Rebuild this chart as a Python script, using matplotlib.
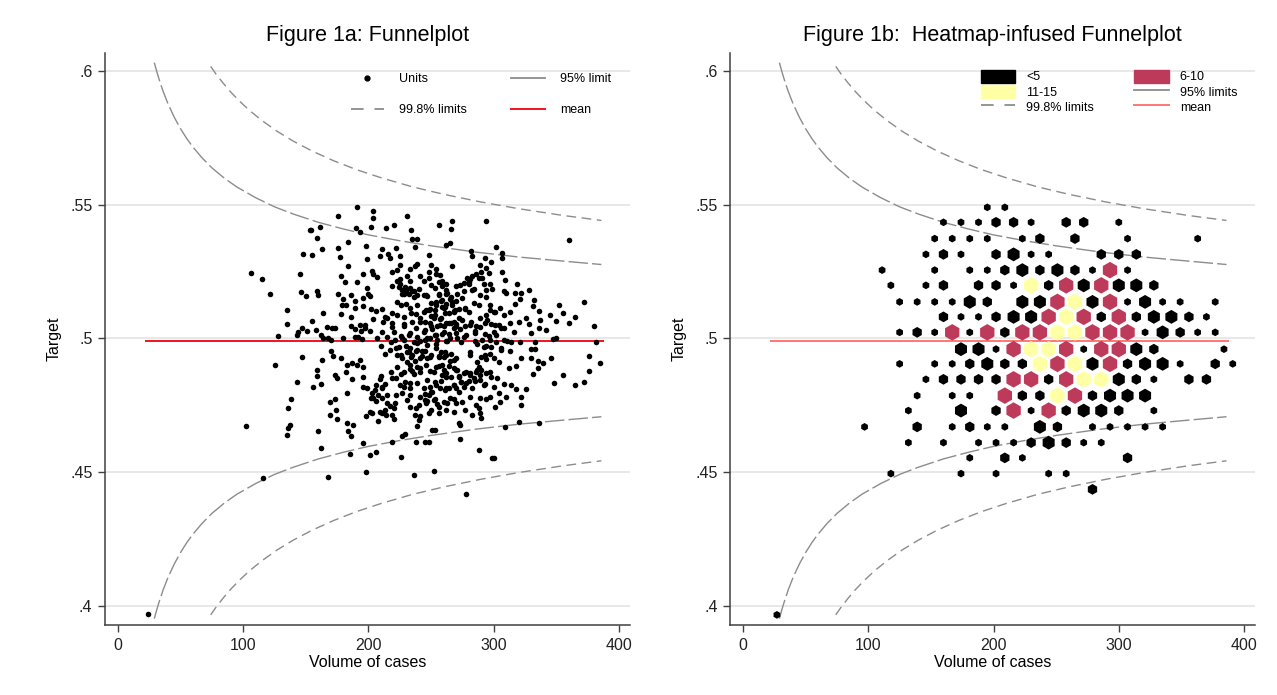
import numpy as np
import matplotlib.pyplot as plt
from matplotlib.lines import Line2D
from matplotlib.patches import Patch

plt.rcParams['font.family'] = ['Liberation Sans', 'DejaVu Sans']

# units (volume of cases, target), grouped by area
units_left = [
    (24, .3970), (153, .5406), (148, .5318), (106, .5245), (115, .5223), (145, .5240), (121, .5167),
    (146, .5175), (150, .5159), (135, .5107), (135, .5053), (147, .5038), (144, .5026), (143, .5013),
    (151, .5029), (128, .5008), (147, .4930), (125, .4901), (143, .4836), (138, .4772), (136, .4741),
    (102, .4671), (137, .4676), (136, .4666), (135, .4637), (116, .4479),
]
units_upper_mid = [
    (191, .5491), (204, .5478), (204, .5453), (176, .5458), (231, .5459), (267, .5440), (256, .5425),
    (202, .5416), (190, .5415), (193, .5398), (161, .5416), (154, .5408), (214, .5413), (220, .5425),
    (234, .5406), (266, .5410), (159, .5375), (184, .5363), (235, .5373), (239, .5373), (237, .5344),
    (262, .5350), (265, .5359), (163, .5335), (176, .5338), (198, .5347), (211, .5335), (222, .5338),
    (155, .5313), (177, .5305), (199, .5297), (209, .5309), (216, .5315), (217, .5303), (225, .5309),
    (248, .5313), (184, .5272), (203, .5251), (204, .5241), (196, .5243), (207, .5231), (219, .5248),
    (225, .5275), (223, .5258), (233, .5260), (237, .5273), (239, .5278), (250, .5275), (254, .5260),
    (267, .5273), (178, .5234), (181, .5213), (191, .5213), (199, .5188), (219, .5196), (223, .5216),
    (225, .5203), (241, .5234), (248, .5248), (254, .5243), (257, .5238), (248, .5225), (244, .5216),
    (250, .5201), (256, .5211), (259, .5198), (262, .5203), (270, .5198), (159, .5176), (160, .5163),
    (176, .5168), (180, .5148), (186, .5161), (182, .5126), (196, .5151), (200, .5168), (201, .5160),
    (227, .5182), (230, .5176), (232, .5166), (235, .5176), (228, .5166), (233, .5188), (240, .5186),
    (244, .5163), (246, .5163), (236, .5157), (239, .5163), (256, .5163), (262, .5182), (266, .5157),
    (179, .5126), (189, .5141), (189, .5113), (196, .5123), (164, .5097), (178, .5093), (186, .5082),
    (202, .5110), (206, .5103), (211, .5110), (213, .5082), (219, .5097), (223, .5136), (226, .5126),
    (230, .5131), (233, .5113), (239, .5126), (250, .5132), (254, .5138), (258, .5141), (262, .5128),
    (267, .5136), (270, .5141), (223, .5088), (228, .5082), (234, .5094), (244, .5101), (248, .5107),
    (253, .5088), (260, .5113), (264, .5094), (268, .5101), (272, .5111), (155, .5066), (158, .5032),
    (171, .5038), (173, .5041), (186, .5045), (193, .5051), (197, .5038), (194, .5028), (204, .5073),
    (212, .5063), (215, .5078), (219, .5057), (228, .5045), (235, .5063), (241, .5076), (245, .5063),
    (250, .5045), (258, .5076), (262, .5057), (268, .5063), (272, .5076), (270, .5045), (164, .5001),
    (168, .5001), (180, .5001), (189, .5007), (195, .4998), (207, .5003), (211, .5023), (215, .5007),
    (220, .5026), (227, .5001), (233, .5020), (239, .5007), (244, .5026), (249, .5001), (254, .5013),
    (260, .5026), (265, .5003), (270, .5020),
]
units_upper_right = [
    (294, .5441), (360, .5369), (302, .5342), (282, .5328), (283, .5309), (293, .5303), (307, .5319),
    (307, .5300), (294, .5265), (290, .5248), (307, .5248), (286, .5241), (283, .5234), (281, .5223),
    (279, .5228), (276, .5207), (273, .5201), (280, .5203), (284, .5186), (276, .5176), (309, .5219),
    (297, .5203), (299, .5186), (294, .5182), (308, .5176), (310, .5169), (319, .5203), (317, .5169),
    (322, .5171), (328, .5182), (321, .5148), (317, .5128), (332, .5144), (331, .5123), (336, .5103),
    (352, .5126), (355, .5094), (345, .5088), (350, .5066), (360, .5057), (365, .5081), (372, .5138),
    (380, .5045), (275, .5151), (284, .5132), (277, .5113), (280, .5101), (289, .5163), (297, .5126),
    (300, .5101), (294, .5088), (305, .5113), (313, .5101), (308, .5088), (289, .5076), (282, .5063),
    (277, .5045), (286, .5045), (293, .5057), (301, .5051), (306, .5038), (313, .5057), (320, .5063),
    (326, .5076), (328, .5053), (337, .5070), (336, .5041), (330, .5020), (316, .5026), (300, .5026),
    (293, .5016), (285, .5020), (278, .5013), (342, .5032), (347, .4998), (350, .5001), (382, .4988),
    (308, .4995), (297, .4995), (285, .4991), (314, .4988), (321, .4988), (333, .4988), (274, .4988),
]
units_lower_mid = [
    (170, .4955), (172, .4936), (178, .4928), (163, .4921), (183, .4901), (187, .4907), (191, .4901),
    (193, .4920), (196, .4895), (159, .4882), (159, .4861), (173, .4863), (175, .4851), (187, .4848),
    (182, .4873), (156, .4820), (162, .4828), (196, .4857), (196, .4820), (199, .4816), (206, .4826),
    (209, .4848), (211, .4820), (205, .4807), (208, .4788), (204, .4776), (211, .4776), (183, .4795),
    (202, .4776), (169, .4761), (173, .4774), (174, .4732), (169, .4714), (175, .4699), (198, .4711),
    (201, .4726), (203, .4720), (209, .4726), (213, .4732), (214, .4714), (219, .4714), (208, .4691),
    (220, .4739), (215, .4757), (221, .4757), (183, .4682), (188, .4676), (184, .4654), (186, .4636),
    (160, .4655), (162, .4589), (185, .4566), (196, .4608), (201, .4564), (206, .4576), (219, .4611),
    (226, .4558), (227, .4633), (229, .4641), (238, .4614), (245, .4611), (248, .4614), (251, .4659),
    (253, .4659), (168, .4480), (198, .4501), (236, .4487), (252, .4504),
    (217, .4957), (223, .4938), (227, .4926), (231, .4948), (233, .4966), (239, .4957), (245, .4953),
    (249, .4932), (254, .4963), (258, .4948), (262, .4938), (265, .4916), (270, .4926), (223, .4895),
    (228, .4876), (233, .4901), (236, .4866), (241, .4888), (246, .4901), (252, .4876), (256, .4898),
    (260, .4882), (262, .4857), (268, .4888), (272, .4857), (219, .4851), (225, .4826), (229, .4838),
    (233, .4816), (239, .4832), (244, .4813), (247, .4845), (250, .4801), (254, .4826), (258, .4841),
    (264, .4813), (268, .4826), (272, .4801), (222, .4788), (227, .4795), (233, .4788), (241, .4782),
    (245, .4770), (248, .4788), (252, .4770), (256, .4745), (260, .4763), (265, .4776), (270, .4757),
    (233, .4745), (240, .4751), (237, .4714), (240, .4695), (239, .4674), (248, .4720), (256, .4720),
    (262, .4732), (268, .4726), (272, .4682), (231, .4770),
]
units_lower_right = [
    (292, .4969), (298, .4969), (306, .4957), (313, .4953), (330, .4961), (333, .4961), (281, .4938),
    (287, .4913), (293, .4938), (300, .4926), (304, .4913), (312, .4891), (318, .4898), (322, .4926),
    (330, .4926), (335, .4916), (339, .4907), (335, .4888), (346, .4926), (376, .4936), (385, .4907),
    (376, .4878), (355, .4863), (331, .4866), (348, .4832), (365, .4826), (372, .4836), (276, .4870),
    (281, .4863), (286, .4876), (290, .4882), (294, .4870), (298, .4857), (303, .4851), (274, .4838),
    (278, .4832), (284, .4851), (289, .4845), (293, .4828), (300, .4820), (308, .4828), (314, .4826),
    (318, .4811), (326, .4810), (310, .4782), (322, .4782), (304, .4795), (297, .4782), (289, .4776),
    (281, .4782), (275, .4763), (294, .4774), (305, .4763), (301, .4745), (322, .4751), (286, .4751),
    (288, .4739), (277, .4732), (283, .4714), (289, .4720), (290, .4701), (309, .4670), (320, .4689),
    (336, .4682), (273, .4676), (273, .4622), (288, .4582), (299, .4554), (300, .4554), (278, .4418),
]
# dense core, estimated where the dots overlap
units_core = [
    (289, .5277), (296, .5244), (298, .5286), (291, .5228), (253, .5189), (259, .5217), (262, .5168),
    (283, .5180), (288, .5226), (292, .5203), (280, .5210), (247, .5158), (254, .5125), (256, .5167),
    (249, .5109), (288, .5127), (294, .5155), (297, .5106), (241, .5062), (246, .5108), (250, .5085),
    (238, .5092), (268, .5102), (275, .5069), (277, .5111), (270, .5053), (295, .5071), (301, .5099),
    (304, .5050), (162, .5013), (167, .5044), (170, .4995), (192, .5004), (197, .5050), (201, .5027),
    (189, .5034), (219, .5044), (226, .5011), (228, .5053), (221, .4995), (232, .5013), (238, .5041),
    (241, .4992), (276, .5004), (281, .5050), (285, .5027), (273, .5034), (289, .5044), (296, .5011),
    (298, .5053), (291, .4995), (302, .5013), (308, .5041), (311, .4992), (213, .4941), (218, .4987),
    (222, .4964), (210, .4971), (254, .4981), (261, .4948), (263, .4990), (256, .4932), (281, .4950),
    (287, .4978), (290, .4929), (297, .4941), (302, .4987), (306, .4964), (294, .4971), (247, .4926),
    (254, .4893), (256, .4935), (249, .4877), (288, .4895), (294, .4923), (297, .4874), (213, .4828),
    (218, .4874), (222, .4851), (210, .4858), (226, .4868), (233, .4835), (235, .4877), (228, .4819),
    (253, .4837), (259, .4865), (262, .4816), (206, .4767), (211, .4813), (215, .4790), (203, .4797),
    (261, .4807), (268, .4774), (270, .4816), (263, .4758), (211, .4720), (217, .4748), (220, .4699),
    (241, .4711), (246, .4757), (250, .4734), (238, .4741),
    (225, .5223), (229, .5191), (233, .5214), (236, .5177), (227, .5166), (231, .5235), (224, .5194),
    (261, .5117), (265, .5149), (269, .5107), (271, .5165), (263, .5171), (267, .5126), (259, .5144),
    (253, .5105), (257, .5073), (261, .5096), (264, .5059), (255, .5048), (259, .5117), (252, .5076),
    (247, .5003), (251, .5035), (255, .4993), (257, .5051), (249, .5057), (253, .5012), (245, .5030),
    (260, .5047), (264, .5015), (268, .5038), (271, .5001), (262, .4990), (266, .5059), (259, .5018),
    (226, .4940), (230, .4972), (234, .4930), (236, .4988), (228, .4994), (232, .4949), (224, .4967),
    (239, .4984), (243, .4952), (247, .4975), (250, .4938), (241, .4927), (245, .4996), (238, .4955),
    (233, .4885), (237, .4917), (241, .4875), (243, .4933), (235, .4939), (239, .4894), (231, .4912),
    (260, .4929), (264, .4897), (268, .4920), (271, .4883), (262, .4872), (266, .4941), (259, .4900),
    (268, .4827), (272, .4859), (276, .4817), (278, .4875), (270, .4881), (274, .4836), (266, .4854),
    (281, .4871), (285, .4839), (289, .4862), (292, .4825), (283, .4814), (287, .4883), (280, .4842),
    (247, .4766), (251, .4798), (255, .4756), (257, .4814), (249, .4820), (253, .4775), (245, .4793),
]

# funnel limits
lim95_x = [29, 31, 33, 36, 40, 45, 50, 55, 60, 67, 75, 85, 95, 110, 125, 140, 160, 180, 200, 225,
           250, 285, 320, 355, 386]
lim95_hi = [.6033, .5999, .5968, .5926, .5878, .5828, .5785, .5748, .5716, .5677, .5639, .5600,
            .5567, .5527, .5493, .5466, .5435, .5410, .5388, .5366, .5347, .5324, .5305, .5290, .5277]
lim95_lo = [.3951, .3985, .4016, .4058, .4106, .4156, .4199, .4236, .4268, .4307, .4345, .4384,
            .4417, .4457, .4491, .4518, .4549, .4574, .4596, .4618, .4637, .4660, .4679, .4694, .4707]
lim998_x = [74, 78, 84, 90, 97, 105, 115, 127, 140, 155, 172, 190, 210, 235, 260, 290, 320, 355, 386]
lim998_hi = [.6019, .5992, .5956, .5923, .5889, .5854, .5816, .5776, .5739, .5702, .5666, .5633,
             .5602, .5568, .5540, .5511, .5486, .5461, .5442]
lim998_lo = [.3965, .3992, .4028, .4061, .4095, .4130, .4168, .4208, .4245, .4282, .4318, .4351,
             .4382, .4416, .4444, .4473, .4498, .4523, .4542]
mean_x = [22, 387]
mean_y = [.4992, .4992]

# heatmap cells: (volume, target, units in cell), fig 1b
hex_cells = [
    (195, .5491, 1), (209, .5491, 1),
    (160, .5435, 1), (174, .5435, 1), (188, .5435, 1), (202, .5435, 2), (216, .5435, 2), (230, .5435, 1),
    (258, .5435, 2), (272, .5435, 2), (300, .5435, 1),
    (153, .5374, 1), (167, .5374, 1), (181, .5374, 1), (195, .5374, 1), (223, .5374, 1), (237, .5374, 2),
    (265, .5374, 2), (307, .5374, 1), (363, .5374, 1),
    (146, .5315, 1), (160, .5315, 2), (174, .5315, 1), (202, .5315, 2), (216, .5315, 4), (230, .5315, 1),
    (244, .5315, 1), (286, .5315, 2), (300, .5315, 2), (314, .5315, 2),
    (111, .5256, 1), (153, .5256, 1), (181, .5256, 1), (195, .5256, 1), (209, .5256, 2), (223, .5256, 4),
    (237, .5256, 2), (251, .5256, 4), (265, .5256, 2), (279, .5256, 1), (293, .5256, 8), (307, .5256, 1),
    (118, .5199, 1), (146, .5199, 1), (160, .5199, 2), (188, .5199, 2), (202, .5199, 2), (216, .5199, 1),
    (230, .5199, 13), (244, .5199, 2), (258, .5199, 8), (272, .5199, 4), (286, .5199, 8), (300, .5199, 4),
    (314, .5199, 4), (328, .5199, 2),
    (125, .5137, 1), (139, .5137, 1), (153, .5137, 1), (167, .5137, 1), (181, .5137, 4), (195, .5137, 2),
    (223, .5137, 4), (237, .5137, 4), (251, .5137, 8), (265, .5137, 13), (279, .5137, 4), (293, .5137, 8),
    (307, .5137, 1), (321, .5137, 4), (335, .5137, 1), (349, .5137, 1), (377, .5137, 1),
    (160, .5081, 2), (174, .5081, 1), (188, .5081, 1), (202, .5081, 2), (216, .5081, 4), (230, .5081, 4),
    (244, .5081, 8), (258, .5081, 13), (272, .5081, 8), (286, .5081, 2), (300, .5081, 8), (314, .5081, 2),
    (328, .5081, 4), (342, .5081, 4), (356, .5081, 2), (370, .5081, 1),
    (125, .5023, 1), (139, .5023, 2), (153, .5023, 1), (167, .5023, 8), (181, .5023, 1), (195, .5023, 8),
    (209, .5023, 2), (223, .5023, 8), (237, .5023, 8), (251, .5023, 13), (265, .5023, 13), (279, .5023, 8),
    (293, .5023, 8), (307, .5023, 8), (321, .5023, 1), (335, .5023, 4), (349, .5023, 2), (363, .5023, 1),
    (377, .5023, 1),
    (174, .4960, 4), (188, .4960, 4), (202, .4960, 1), (216, .4960, 8), (230, .4960, 13), (244, .4960, 13),
    (258, .4960, 8), (272, .4960, 1), (286, .4960, 8), (300, .4960, 8), (314, .4960, 4), (328, .4960, 2),
    (384, .4960, 1),
    (125, .4905, 1), (153, .4905, 1), (167, .4905, 1), (181, .4905, 2), (195, .4905, 4), (209, .4905, 2),
    (223, .4905, 2), (237, .4905, 13), (251, .4905, 8), (265, .4905, 13), (279, .4905, 4), (293, .4905, 8),
    (307, .4905, 2), (321, .4905, 4), (335, .4905, 4), (349, .4905, 1), (377, .4905, 2), (391, .4905, 1),
    (146, .4847, 1), (160, .4847, 2), (174, .4847, 2), (188, .4847, 2), (202, .4847, 2), (216, .4847, 8),
    (230, .4847, 8), (244, .4847, 2), (258, .4847, 8), (272, .4847, 13), (286, .4847, 13), (300, .4847, 4),
    (314, .4847, 2), (328, .4847, 1), (356, .4847, 2), (370, .4847, 2),
    (139, .4786, 1), (167, .4786, 1), (181, .4786, 1), (209, .4786, 8), (223, .4786, 2), (237, .4786, 2),
    (251, .4786, 13), (265, .4786, 8), (279, .4786, 2), (293, .4786, 4), (307, .4786, 4), (321, .4786, 4),
    (132, .4730, 1), (174, .4730, 4), (202, .4730, 2), (216, .4730, 8), (230, .4730, 1), (244, .4730, 8),
    (258, .4730, 2), (272, .4730, 4), (286, .4730, 4), (300, .4730, 2), (328, .4730, 1),
    (97, .4669, 1), (139, .4669, 2), (167, .4669, 1), (181, .4669, 2), (195, .4669, 1), (209, .4669, 1),
    (237, .4669, 4), (251, .4669, 2), (279, .4669, 1), (293, .4669, 1), (307, .4669, 1), (321, .4669, 1),
    (335, .4669, 1),
    (132, .4610, 1), (160, .4610, 1), (188, .4610, 1), (202, .4610, 1), (216, .4610, 1), (230, .4610, 2),
    (244, .4610, 4), (258, .4610, 2), (272, .4610, 1), (286, .4610, 1),
    (181, .4553, 1), (209, .4553, 2), (223, .4553, 1), (307, .4553, 2),
    (118, .4494, 1), (174, .4494, 1), (202, .4494, 1), (244, .4494, 1), (258, .4494, 1),
    (279, .4435, 2),
    (27, .3965, 1),
]

units = np.array(units_left + units_upper_mid + units_upper_right + units_lower_mid
                 + units_lower_right + units_core)
volume, target = units[:, 0], units[:, 1]
hx, hy, hn = np.array(hex_cells).T

GRID = '#e6e6e6'
LIM = '#8c8c8c'
HEX_RED = '#be3a5a'
HEX_YEL = '#ffffa6'
MEAN_A = '#f0141c'
MEAN_B = '#ff7676'

fig = plt.figure(figsize=(12.77, 6.95), dpi=100)
ax1 = fig.add_axes([0.0822, 0.1007, 0.4111, 0.823])
ax2 = fig.add_axes([0.5717, 0.1007, 0.4111, 0.823])


def style_axis(ax, title):
    ax.set_xlim(-10.4, 408.8)
    ax.set_ylim(0.3927, 0.6069)
    ax.set_xticks([0, 100, 200, 300, 400])
    ax.set_yticks([.4, .45, .5, .55, .6])
    ax.set_yticklabels(['.4', '.45', '.5', '.55', '.6'])
    ax.yaxis.grid(True, color=GRID, lw=1.3)
    ax.set_axisbelow(True)
    for s in ['top', 'right']:
        ax.spines[s].set_visible(False)
    for s in ['left', 'bottom']:
        ax.spines[s].set_color('#404040')
        ax.spines[s].set_linewidth(1.1)
    ax.tick_params(direction='out', length=5, width=1, color='#404040', labelsize=11.5,
                   labelcolor='#222222', pad=4)
    ax.set_xlabel('Volume of cases', fontsize=11.5, labelpad=2)
    ax.set_ylabel('Target', fontsize=11.5, labelpad=6)
    ax.set_title(title, fontsize=15.5, pad=9)


def draw_limits(ax, mean_color):
    for ys in (lim95_hi, lim95_lo):
        ax.plot(lim95_x, ys, color=LIM, lw=1.0, dashes=(14, 3))
    for ys in (lim998_hi, lim998_lo):
        ax.plot(lim998_x, ys, color=LIM, lw=1.0, dashes=(7, 4))
    ax.plot(mean_x, mean_y, color=mean_color, lw=1.4)


# Figure 1a
style_axis(ax1, 'Figure 1a: Funnelplot')
draw_limits(ax1, MEAN_A)
ax1.scatter(volume, target, s=16, color='black', linewidths=0, zorder=3)
h1 = [Line2D([], [], marker='o', ls='none', color='black', markersize=3.5),
      Line2D([], [], color=LIM, lw=1.3, dashes=(7, 6)),
      Line2D([], [], color=LIM, lw=1.3),
      Line2D([], [], color=MEAN_A, lw=1.4)]
ax1.legend(h1, ['Units', '99.8% limits', '95% limit', 'mean'], ncol=2, frameon=False,
           loc='upper right', bbox_to_anchor=(0.985, 0.984), fontsize=9, handlelength=2.7,
           labelspacing=1.5, columnspacing=3.5, handletextpad=1.2)

# Figure 1b
style_axis(ax2, 'Figure 1b:  Heatmap-infused Funnelplot')
draw_limits(ax2, MEAN_B)
sizes = np.select([hn > 5, hn >= 3, hn >= 2], [142, 100, 60], default=31)
colors = np.where(hn > 10, HEX_YEL, np.where(hn > 5, HEX_RED, 'black'))
ax2.scatter(hx, hy, s=sizes, c=list(colors), marker='h', linewidths=0, zorder=3)
h2 = [Patch(color='black'), Patch(color=HEX_YEL), Line2D([], [], color=LIM, lw=1.3, dashes=(7, 6)),
      Patch(color=HEX_RED), Line2D([], [], color=LIM, lw=1.3), Line2D([], [], color=MEAN_B, lw=1.4)]
ax2.legend(h2, ['<5', '11-15', '99.8% limits', '6-10', '95% limits', 'mean'], ncol=2, frameon=False,
           loc='upper right', bbox_to_anchor=(0.983, 0.986), fontsize=9, handlelength=2.75,
           handleheight=1.2, labelspacing=0.12, columnspacing=3.2, handletextpad=0.9,
           borderaxespad=0.3)

fig.savefig('out.png', dpi=100)
